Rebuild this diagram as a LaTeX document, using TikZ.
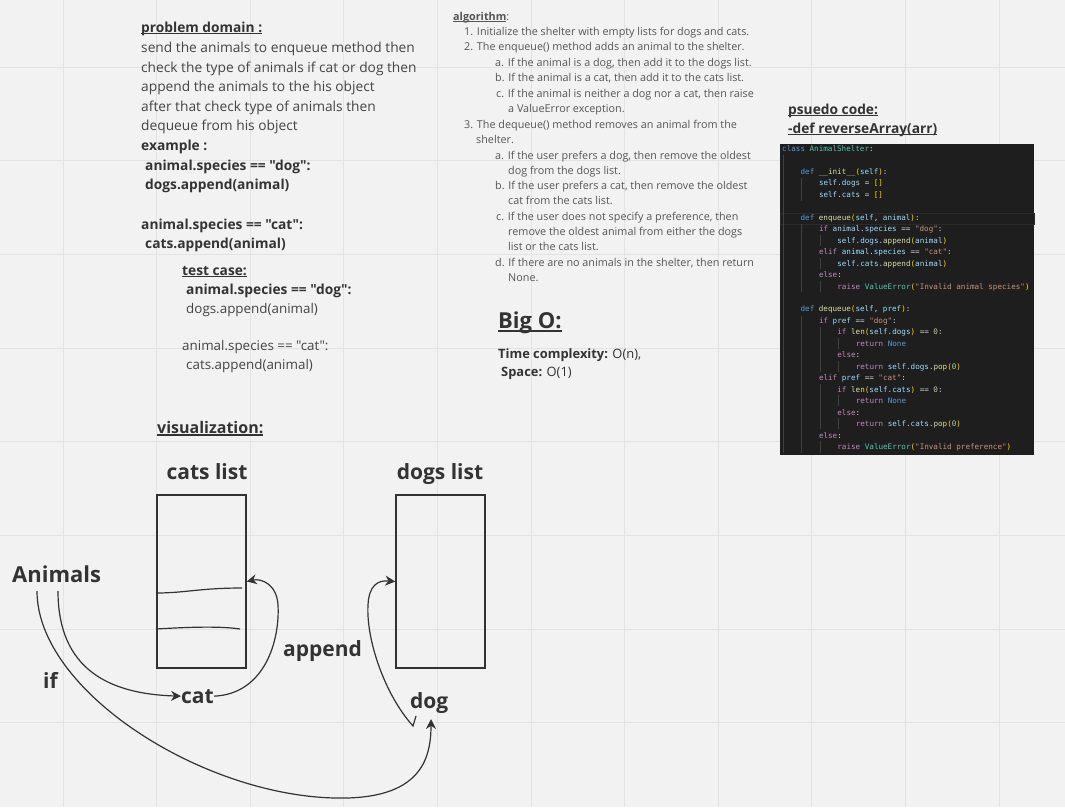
\documentclass[tikz,border=0pt]{standalone}
\usepackage{fontspec}
\setmainfont{Open Sans}[Ligatures=TeXOff]
\setmonofont{DejaVu Sans Mono}
\usetikzlibrary{arrows.meta}
\definecolor{bg}{HTML}{F2F2F2}
\definecolor{gridc}{HTML}{E3E3E3}
\definecolor{ink}{HTML}{333333}
\definecolor{txt}{HTML}{444444}
\definecolor{alg}{HTML}{555555}
\definecolor{codebg}{HTML}{1E1E1E}
\definecolor{hl}{HTML}{2A2A2A}
\definecolor{guide}{HTML}{404040}
\definecolor{ckw}{HTML}{569CD6}
\definecolor{ccl}{HTML}{4EC9B0}
\definecolor{cfn}{HTML}{DCDCAA}
\definecolor{cbr}{HTML}{FFD700}
\definecolor{cvr}{HTML}{9CDCFE}
\definecolor{cop}{HTML}{D4D4D4}
\definecolor{cst}{HTML}{CE9178}
\definecolor{cct}{HTML}{C586C0}
\definecolor{cnm}{HTML}{B5CEA8}
\newcommand\cdKw[1]{\textcolor{ckw}{#1}}
\newcommand\cdCl[1]{\textcolor{ccl}{#1}}
\newcommand\cdFn[1]{\textcolor{cfn}{#1}}
\newcommand\cdBr[1]{\textcolor{cbr}{#1}}
\newcommand\cdVr[1]{\textcolor{cvr}{#1}}
\newcommand\cdOp[1]{\textcolor{cop}{#1}}
\newcommand\cdSt[1]{\textcolor{cst}{#1}}
\newcommand\cdCt[1]{\textcolor{cct}{#1}}
\newcommand\cdNm[1]{\textcolor{cnm}{#1}}
\newcommand\dq{\symbol{34}}
\newcommand\undl[1]{\setbox0\hbox{#1}\rlap{\rule[-0.16em]{\wd0}{0.07em}}\box0}
\newcommand\codeln[4]{\node[cd] (#3) at ({782+4.6*#1},{151.5+11.46*#2}) {#4};}
\tikzset{
 pd/.style={anchor=base west, inner sep=0pt, text=txt, font=\fontsize{13.75}{16}\selectfont},
 pdb/.style={anchor=base west, inner sep=0pt, text=ink, font=\fontsize{13.75}{16}\selectfont\bfseries},
 tcr/.style={anchor=base west, inner sep=0pt, text=txt, font=\fontsize{13.4}{16}\selectfont},
 al/.style={anchor=base west, inner sep=0pt, text=alg, font=\fontsize{10.8}{12}\selectfont},
 cd/.style={anchor=base west, inner sep=0pt, text=cop, font=\fontsize{7.6}{9}\selectfont\ttfamily},
 lbl/.style={anchor=base west, inner sep=0pt, text=ink, font=\fontsize{21}{24}\selectfont\bfseries},
 lblc/.style={anchor=base, inner sep=0pt, text=ink, font=\fontsize{21}{24}\selectfont\bfseries},
 listbox/.style={draw=ink, line width=1.5pt, minimum width=89pt, minimum height=173pt, inner sep=0pt},
 cv/.style={draw=ink, line width=1.2pt},
 arr/.style={-{Stealth[length=10pt,width=10pt]}},
 gl/.style={draw=gridc, line width=1pt},
 ig/.style={draw=guide, line width=0.6pt}
}
\begin{document}
\begin{tikzpicture}[x=1pt,y=-1pt]
\path[fill=bg,use as bounding box] (0,0) rectangle (1065,807);
% grid
\foreach \k in {0,...,10} { \draw[gl] ({63+93.6*\k},0) -- ({63+93.6*\k},807); }
\foreach \k in {0,...,7} { \draw[gl] (0,{67+93.7*\k}) -- (1065,{67+93.7*\k}); }

% problem domain
\node[pdb] (pd0) at (141,32) {\undl{problem domain :}};
\node[pd] (pd1) at (141,52) {send the animals to enqueue method then};
\node[pd] (pd2) at (141,72) {check the type of animals if cat or dog then};
\node[pd] (pd3) at (141,91) {append the animals to the his object};
\node[pd] (pd4) at (141,111) {after that check type of animals then};
\node[pd] (pd5) at (141,130) {dequeue from his object};
\node[pdb] (pd6) at (141,150) {example :};
\node[pdb] (pd7) at (145,170) {animal.species == \dq dog\dq :};
\node[pdb] (pd8) at (145,189) {dogs.append(animal)};
\node[pdb] (pd9) at (141,229) {animal.species == \dq cat\dq :};
\node[pdb] (pd10) at (145,248) {cats.append(animal)};
\node[pdb] (tc0) at (182,275) {\undl{test case:}};
\node[pdb] (tc1) at (186,294) {animal.species == \dq dog\dq :};
\node[tcr] (tc2) at (186,313) {dogs.append(animal)};
\node[tcr] (tc3) at (182,350) {animal.species == \dq cat\dq :};
\node[tcr] (tc4) at (186,369) {cats.append(animal)};

% algorithm
\node[al] (al0) at (453,20) {\undl{\bfseries algorithm}:};
\node[al] (al1) at (464,35) {1. Initialize the shelter with empty lists for dogs and cats.};
\node[al] (al2) at (464,50) {2. The enqueue() method adds an animal to the shelter.};
\node[al] (al3) at (495,66) {a. If the animal is a dog, then add it to the dogs list.};
\node[al] (al4) at (495,81) {b. If the animal is a cat, then add it to the cats list.};
\node[al] (al5) at (496,97) {c. If the animal is neither a dog nor a cat, then raise};
\node[al] (al6) at (508,112) {a ValueError exception.};
\node[al] (al7) at (464,128) {3. The dequeue() method removes an animal from the};
\node[al] (al8) at (476,143) {shelter.};
\node[al] (al9) at (495,159) {a. If the user prefers a dog, then remove the oldest};
\node[al] (al10) at (508,174) {dog from the dogs list.};
\node[al] (al11) at (495,189) {b. If the user prefers a cat, then remove the oldest};
\node[al] (al12) at (508,204) {cat from the cats list.};
\node[al] (al13) at (496,220) {c. If the user does not specify a preference, then};
\node[al] (al14) at (508,235) {remove the oldest animal from either the dogs};
\node[al] (al15) at (508,250) {list or the cats list.};
\node[al] (al16) at (495,266) {d. If there are no animals in the shelter, then return};
\node[al] (al17) at (508,281) {None.};

% Big O
\node[lbl, font=\fontsize{22}{24}\selectfont\bfseries] (bo0) at (498,328) {\undl{Big O:}};
\node[pd, text=ink, font=\fontsize{12.9}{14}\selectfont] (bo1) at (498,358) {\textbf{Time complexity:} O(n),};
\node[pd, text=ink, font=\fontsize{12.9}{14}\selectfont] (bo2) at (501,376) {\textbf{Space:} O(1)};

% pseudo code
\node[pdb] (ps0) at (788,114) {\undl{psuedo code:}};
\node[pdb] (ps1) at (788,133) {\undl{-def reverseArray(arr)}};

% code box
\fill[codebg] (780,144) rectangle (1034,455);
\draw[draw=hl, line width=0.8pt] (780,213.5) rectangle (1034,224);
\draw[ig] (783.5,155) -- (783.5,453);
\draw[ig] (801.5,178) -- (801.5,201);
\draw[ig] (801.5,224) -- (801.5,292);
\draw[ig] (801.5,316) -- (801.5,453);
\draw[ig] (820,235) -- (820,246);
\draw[ig] (820,258) -- (820,269);
\draw[ig] (820,281) -- (820,292);
\draw[ig] (820,327) -- (820,372);
\draw[ig] (820,384) -- (820,429);
\draw[ig] (820,441) -- (820,453);
\draw[ig] (838.5,338) -- (838.5,349);
\draw[ig] (838.5,361) -- (838.5,372);
\draw[ig] (838.5,395) -- (838.5,406);
\draw[ig] (838.5,418) -- (838.5,429);
\codeln{0}{0}{c0}{\cdKw{class} \cdCl{AnimalShelter}\cdOp{:}}
\codeln{4}{2}{c2}{\cdKw{def} \cdFn{\_\_init\_\_}\cdBr{(}\cdVr{self}\cdBr{)}\cdOp{:}}
\codeln{8}{3}{c3}{\cdVr{self}\cdOp{.}\cdVr{dogs} \cdOp{=} \cdBr{[]}}
\codeln{8}{4}{c4}{\cdVr{self}\cdOp{.}\cdVr{cats} \cdOp{=} \cdBr{[]}}
\codeln{4}{6}{c6}{\cdKw{def} \cdFn{enqueue}\cdBr{(}\cdVr{self}\cdOp{,} \cdVr{animal}\cdBr{)}\cdOp{:}}
\codeln{8}{7}{c7}{\cdCt{if} \cdVr{animal}\cdOp{.}\cdVr{species} \cdOp{==} \cdSt{"dog"}\cdOp{:}}
\codeln{12}{8}{c8}{\cdVr{self}\cdOp{.}\cdVr{dogs}\cdOp{.}\cdFn{append}\cdBr{(}\cdVr{animal}\cdBr{)}}
\codeln{8}{9}{c9}{\cdCt{elif} \cdVr{animal}\cdOp{.}\cdVr{species} \cdOp{==} \cdSt{"cat"}\cdOp{:}}
\codeln{12}{10}{c10}{\cdVr{self}\cdOp{.}\cdVr{cats}\cdOp{.}\cdFn{append}\cdBr{(}\cdVr{animal}\cdBr{)}}
\codeln{8}{11}{c11}{\cdCt{else}\cdOp{:}}
\codeln{12}{12}{c12}{\cdCt{raise} \cdCl{ValueError}\cdBr{(}\cdSt{"Invalid animal species"}\cdBr{)}}
\codeln{4}{14}{c14}{\cdKw{def} \cdFn{dequeue}\cdBr{(}\cdVr{self}\cdOp{,} \cdVr{pref}\cdBr{)}\cdOp{:}}
\codeln{8}{15}{c15}{\cdCt{if} \cdVr{pref} \cdOp{==} \cdSt{"dog"}\cdOp{:}}
\codeln{12}{16}{c16}{\cdCt{if} \cdFn{len}\cdBr{(}\cdVr{self}\cdOp{.}\cdVr{dogs}\cdBr{)} \cdOp{==} \cdNm{0}\cdOp{:}}
\codeln{16}{17}{c17}{\cdCt{return} \cdKw{None}}
\codeln{12}{18}{c18}{\cdCt{else}\cdOp{:}}
\codeln{16}{19}{c19}{\cdCt{return} \cdVr{self}\cdOp{.}\cdVr{dogs}\cdOp{.}\cdFn{pop}\cdBr{(}\cdNm{0}\cdBr{)}}
\codeln{8}{20}{c20}{\cdCt{elif} \cdVr{pref} \cdOp{==} \cdSt{"cat"}\cdOp{:}}
\codeln{12}{21}{c21}{\cdCt{if} \cdFn{len}\cdBr{(}\cdVr{self}\cdOp{.}\cdVr{cats}\cdBr{)} \cdOp{==} \cdNm{0}\cdOp{:}}
\codeln{16}{22}{c22}{\cdCt{return} \cdKw{None}}
\codeln{12}{23}{c23}{\cdCt{else}\cdOp{:}}
\codeln{16}{24}{c24}{\cdCt{return} \cdVr{self}\cdOp{.}\cdVr{cats}\cdOp{.}\cdFn{pop}\cdBr{(}\cdNm{0}\cdBr{)}}
\codeln{8}{25}{c25}{\cdCt{else}\cdOp{:}}
\codeln{12}{26}{c26}{\cdCt{raise} \cdCl{ValueError}\cdBr{(}\cdSt{"Invalid preference"}\cdBr{)}}

% visualization
\node[pdb, font=\fontsize{16}{18}\selectfont\bfseries] (vz) at (157,433) {\undl{visualization:}};
\node[lblc] (catl) at (207,479) {cats list};
\node[lblc] (dogl) at (440,479) {dogs list};
\node[listbox] (cats) at (201.5,581.5) {};
\node[listbox] (dogs) at (440.5,581.5) {};
\node[lbl, font=\fontsize{22}{24}\selectfont\bfseries] (anim) at (12,582) {Animals};
\node[lbl] (iff) at (43,688) {if};
\node[lbl] (cat) at (181,703) {cat};
\node[lbl] (dog) at (410,708) {dog};
\node[lbl] (app) at (283,656) {append};

% cat list entries
\draw[cv] (156,593) .. controls (185,593) and (200,588) .. (242,588);
\draw[cv] (156,629) .. controls (190,627) and (220,626) .. (240,629);

% connectors
\coordinate (a1) at (58,591);
\coordinate (a2) at (37,591);
\coordinate (dtip) at (431,719);
\coordinate (dt) at (416,716);
\coordinate (db) at (413,726);
\draw[cv,arr] (a1) .. controls (58,670) and (110,694) .. (cat.west);
\draw[cv,arr] (a2) .. controls (37,690) and (200,795) .. (335,798) .. controls (420,800) and (431,760) .. (dtip);
\draw[cv,arr] (cat.east) .. controls (265,694) and (280,640) .. (278,605) .. controls (277,585) and (262,578) .. (cats.east);
\draw[cv,arr] (dt) -- (db) .. controls (385,695) and (366,640) .. (368,605) .. controls (369,585) and (378,580) .. (dogs.west);
\end{tikzpicture}
\end{document}
